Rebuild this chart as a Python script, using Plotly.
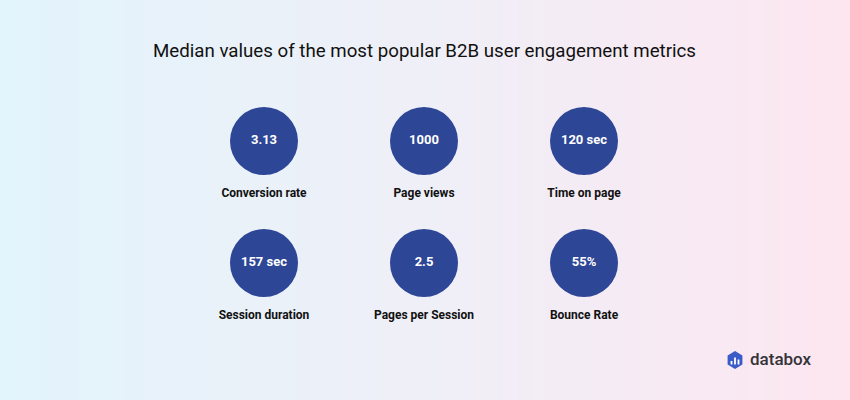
import plotly.graph_objects as go
import numpy as np

title = "Median values of the most popular B2B user engagement metrics"
metrics = ["Conversion rate", "Page views", "Time on page",
           "Session duration", "Pages per Session", "Bounce Rate"]
values = ["3.13", "1000", "120 sec", "157 sec", "2.5", "55%"]

bg_stops = ["#e2f4fc", "#efeff7", "#fde6f0"]

W, H = 850, 400
col_x = [264, 424, 584]
row_y = [141, 263]
label_dy = 53

xs = [col_x[i % 3] for i in range(len(metrics))]
ys = [row_y[i // 3] for i in range(len(metrics))]

fig = go.Figure()

# background gradient
fig.add_trace(go.Heatmap(
    x=[-5, W / 2, W + 5], y=[-5, H + 5],
    z=[[0, 0.5, 1], [0, 0.5, 1]],
    colorscale=[[0, bg_stops[0]], [0.5, bg_stops[1]], [1, bg_stops[2]]],
    zsmooth="best", showscale=False, hoverinfo="skip"
))

fig.add_trace(go.Scatter(
    x=xs, y=ys, mode="markers+text", text=values,
    marker=dict(size=68, color="#2d4696", line=dict(width=0)),
    textfont=dict(family="Roboto", size=13, color="white", weight="bold"),
    textposition="middle center", hoverinfo="skip"
))

fig.add_trace(go.Scatter(
    x=xs, y=[y + label_dy for y in ys], mode="text", text=metrics,
    textfont=dict(family="Roboto", size=12, color="#111111", weight="bold"),
    textposition="middle center", hoverinfo="skip"
))

# databox logo
cx, cy, r = 735, 360, 9
ang = np.radians([90, 150, 210, 270, 330, 30])
pts = [(cx + r * np.cos(a) * 0.95, cy + r * np.sin(a)) for a in ang]
path = "M " + " L ".join(f"{px:.1f},{py:.1f}" for px, py in pts) + " Z"
shapes = [dict(type="path", path=path, xref="x", yref="y",
               fillcolor="#3b5bc8", line=dict(width=0))]
for bx, bh in [(-3.5, 3.5), (0, 7), (3.5, 5)]:
    shapes.append(dict(type="rect", xref="x", yref="y",
                       x0=cx + bx - 0.9, x1=cx + bx + 0.9,
                       y0=cy + 4.5 - bh, y1=cy + 4.5,
                       fillcolor="white", line=dict(width=0)))

fig.update_layout(
    width=W, height=H,
    margin=dict(l=0, r=0, t=0, b=0),
    paper_bgcolor=bg_stops[1], plot_bgcolor=bg_stops[1],
    showlegend=False,
    xaxis=dict(range=[0, W], visible=False, fixedrange=True),
    yaxis=dict(range=[H, 0], visible=False, fixedrange=True),
    shapes=shapes,
    annotations=[
        dict(text=title, x=424, y=51, xref="x", yref="y", showarrow=False,
             font=dict(family="Roboto", size=18.7, color="#111111")),
        dict(text="databox", x=748, y=359, xref="x", yref="y", showarrow=False,
             xanchor="left",
             font=dict(family="Roboto", size=17, color="#333338", weight=500)),
    ],
)

fig.write_html("out.html", config={"displayModeBar": False},
               post_script="document.body.style.margin='0px';")
